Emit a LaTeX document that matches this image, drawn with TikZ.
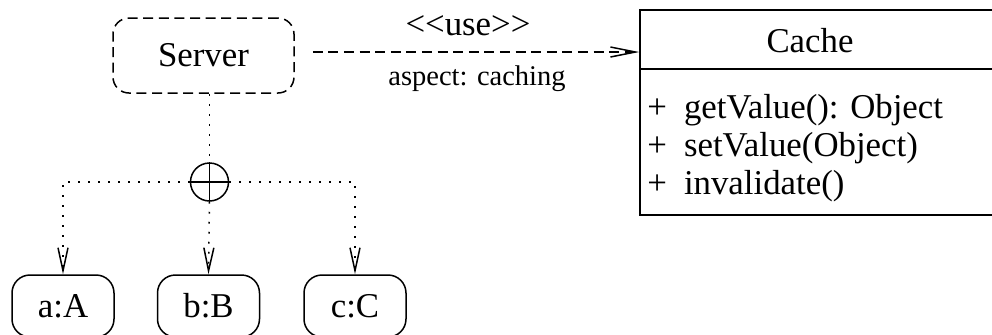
\documentclass[tikz,border=0pt]{standalone}
\usepackage{fontspec}
\setmainfont{Liberation Serif}
\usetikzlibrary{arrows.meta}
\begin{document}
\begin{tikzpicture}[x=0.5pt,y=-0.5pt,
  ln/.style={line width=0.75pt},
  bigtxt/.style={font=\fontsize{17.4}{20}\selectfont},
  smalltxt/.style={font=\fontsize{14.25}{17}\selectfont},
  dashline/.style={ln, dash pattern=on 5pt off 2.8pt},
  dotline/.style={ln, dash pattern=on 0.9pt off 4.1pt},
  objbox/.style={ln, draw, rounded corners=9pt, minimum width=51pt, minimum height=31pt, inner sep=0pt, bigtxt},
  servbox/.style={dashline, draw, rounded corners=8pt, minimum width=90.5pt, minimum height=37.5pt, inner sep=0pt, bigtxt},
  classbox/.style={ln, draw, minimum width=180pt, minimum height=102.5pt, inner sep=0pt},
  vtip/.style={-{Straight Barb[length=11.5pt,width=5pt]}},
  usetip/.style={-{Straight Barb[length=12.5pt,width=5pt]}},
  oplus/.style={ln, draw, circle, minimum size=19pt, inner sep=0pt}
]
\useasboundingbox (0,0) rectangle (992,334);

% Server
\node[servbox] (server) at (203.5,55.5) {Server};

% Cache class
\node[classbox] (cachebox) at (820,112.5) {};
\coordinate (divy) at (0,69);
\draw[ln] (cachebox.west |- divy) -- (cachebox.east |- divy);
\node[bigtxt, anchor=base] (cachename) at (810,52) {Cache};
\node[bigtxt, anchor=base west, inner sep=0pt] (op1) at (647,118) {+\hspace{8.5pt}getValue(): Object};
\node[bigtxt, anchor=base west, inner sep=0pt] (op2) at (647,156) {+\hspace{8.5pt}setValue(Object)};
\node[bigtxt, anchor=base west, inner sep=0pt] (op3) at (647,194) {+\hspace{8.5pt}invalidate()};

% use dependency
\coordinate (usey) at (0,52);
\draw[dashline, usetip] ([xshift=9pt]server.east |- usey) -- (cachebox.west |- usey);
\node[bigtxt, anchor=base, inner sep=0pt] (uselbl) at (468,35) {<{}<use>{}>};
\node[smalltxt, anchor=base, inner sep=0pt] (aspectlbl) at (477,85) {aspect: caching};

% composition
\node[oplus] (plus) at (209.5,182) {};
\draw[ln] (plus.north) -- (plus.south);
\draw[ln] (plus.west) -- (plus.east);

\node[objbox] (a) at (63,306) {a:A};
\node[objbox] (b) at (208.5,306) {b:B};
\node[objbox] (c) at (355,306) {c:C};

\draw[dotline] (plus |- server.south) -- (plus.north);
\draw[dotline, vtip] (plus.west) -| (a.north);
\draw[dotline, vtip] (plus.south) -- (b.north);
\draw[dotline, vtip] (plus.east) -| (c.north);
\end{tikzpicture}
\end{document}
